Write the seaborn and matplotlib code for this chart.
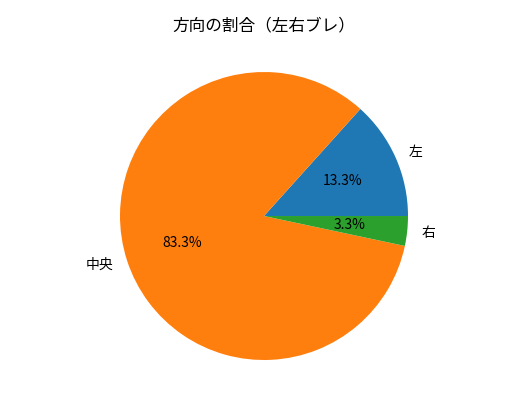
import matplotlib
matplotlib.use('Agg')
import matplotlib.pyplot as plt
import seaborn as sns

# direction counts (left / center / right)
labels = ['左', '中央', '右']
counts = [4, 25, 1]

plt.rcParams['font.family'] = ['Noto Sans CJK JP', 'DejaVu Sans']

colors = sns.color_palette('tab10', 3)

fig = plt.figure(figsize=(5.27, 4.12), dpi=100)
ax = fig.add_axes([0.1594, 0.0388, 0.6831, 0.8738])
ax.pie(counts, labels=labels, autopct='%1.1f%%', colors=colors,
       textprops={'fontsize': 10, 'color': 'black'})
ax.set_aspect('equal')
ax.set_title('方向の割合（左右ブレ）', fontsize=12, pad=4)

fig.savefig('out.png', dpi=100)
